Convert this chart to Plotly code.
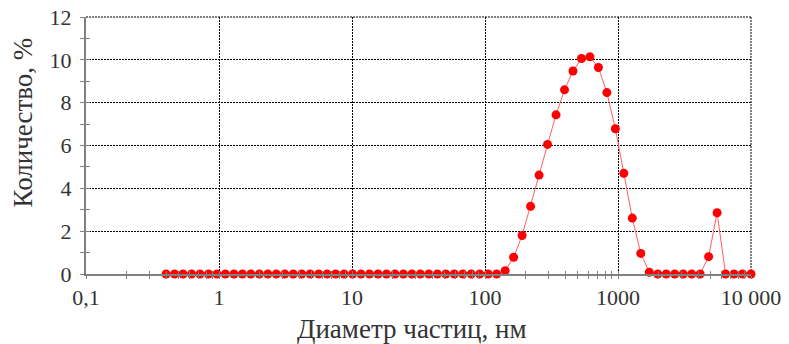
import plotly.graph_objects as go

# Size bins (nm)
diameter_nm = [0.4, 0.4632, 0.5365, 0.6213, 0.7195, 0.8332, 0.9649, 1.117, 1.294, 1.499,
               1.736, 2.010, 2.328, 2.696, 3.122, 3.615, 4.187, 4.849, 5.615, 6.503,
               7.531, 8.721, 10.10, 11.70, 13.54, 15.69, 18.17, 21.04, 24.36, 28.21,
               32.67, 37.84, 43.82, 50.75, 58.77, 68.06, 78.82, 91.28, 105.7, 122.4,
               141.8, 164.2, 190.1, 220.2, 255.0, 295.3, 342.0, 396.1, 458.7, 531.2,
               615.1, 712.4, 825.0, 955.4, 1106, 1281, 1484, 1718, 1990, 2305,
               2669, 3091, 3580, 4145, 4801, 5560, 6439, 7456, 8635, 10000]
# Number distribution (%)
number_pct = [0] * 40 + [0.15, 0.78, 1.8, 3.16, 4.62, 6.05, 7.43, 8.6, 9.48, 10.06,
                         10.14, 9.64, 8.47, 6.78, 4.7, 2.61, 0.96, 0.08, 0, 0,
                         0, 0, 0, 0, 0.81, 2.86, 0, 0, 0, 0]

x_major = [0.1, 1, 10, 100, 1000, 10000]
x_labels = ["0,1", "1", "10", "100", "1000", "10 000"]
y_major = [0, 2, 4, 6, 8, 10, 12]
y_minor = [1, 3, 5, 7, 9, 11]
x_minor = [m * d for d in [0.1, 1, 10, 100, 1000] for m in range(2, 10)]
x_title = "Диаметр частиц, нм"
y_title = "Количество, %"

FONT = "Liberation Serif, Tinos, Times New Roman, serif"
AXC = "#808080"
TXT = "#333333"
XR = [-1, 4]
YR = [0, 12]
GRID = dict(color="#000", width=1, dash="2px,1px")

fig = go.Figure()
fig.add_trace(go.Scatter(
    x=diameter_nm, y=number_pct, mode="lines+markers",
    line=dict(color="#ff6060", width=1),
    marker=dict(color="#ff0000", size=9),
    hoverinfo="x+y", showlegend=False, cliponaxis=False))
# invisible helper trace for the overlay axes (inner half of crossing ticks)
fig.add_trace(go.Scatter(x=[1], y=[0], xaxis="x2", yaxis="y2", mode="markers",
                         marker=dict(opacity=0), hoverinfo="skip", showlegend=False))

fig.update_layout(
    width=789, height=344,
    margin=dict(l=86, r=38, t=17, b=70, autoexpand=False),
    paper_bgcolor="white", plot_bgcolor="white",
    font=dict(family=FONT, size=22, color=TXT),
    xaxis=dict(
        type="log", range=XR, automargin=False,
        tickvals=x_major, ticktext=x_labels,
        tickfont=dict(family=FONT, size=22, color=TXT),
        ticks="outside", ticklen=3, tickcolor=AXC, tickwidth=1,
        showline=True, linecolor=AXC, linewidth=2,
        showgrid=True, gridcolor="#000", griddash="2px,1px", gridwidth=1,
        minor=dict(tickvals=x_minor, ticks="outside", ticklen=3, tickcolor=AXC, showgrid=False),
        zeroline=False,
    ),
    yaxis=dict(
        range=YR, automargin=False,
        tickvals=y_major,
        tickfont=dict(family=FONT, size=22, color=TXT),
        ticks="outside", ticklen=4, tickcolor=AXC, tickwidth=1,
        ticklabelstandoff=4,
        showline=True, linecolor=AXC, linewidth=2,
        showgrid=True, gridcolor="#000", griddash="2px,1px", gridwidth=1,
        minor=dict(tickvals=y_minor, ticks="outside", ticklen=4, tickcolor=AXC, showgrid=False),
        zeroline=False,
    ),
    xaxis2=dict(
        type="log", range=XR, overlaying="x", anchor="y", automargin=False,
        tickvals=x_major + x_minor, ticks="inside", ticklen=3, tickcolor=AXC,
        showticklabels=False, showgrid=False, zeroline=False, showline=False,
    ),
    yaxis2=dict(
        range=YR, overlaying="y", anchor="x", automargin=False,
        tickvals=y_major + y_minor, ticks="inside", ticklen=4, tickcolor=AXC,
        showticklabels=False, showgrid=False, zeroline=False, showline=False,
    ),
    shapes=[
        # grid lines at the plot edges (plotly drops edge gridlines)
        dict(type="line", xref="paper", yref="paper", x0=0, x1=1, y0=1, y1=1, line=GRID, layer="below"),
        dict(type="line", xref="paper", yref="paper", x0=1, x1=1, y0=0, y1=1, line=GRID, layer="below"),
    ],
    annotations=[
        dict(text=x_title, xref="paper", yref="paper", x=0.4895, y=-0.214,
             xanchor="center", yanchor="middle", showarrow=False,
             font=dict(size=27, family=FONT, color=TXT)),
        dict(text=y_title, xref="paper", yref="paper", x=-0.0947, y=0.5895, textangle=-90,
             xanchor="center", yanchor="middle", showarrow=False,
             font=dict(size=27, family=FONT, color=TXT)),
    ],
)

fig.write_html("out.html", config={"displayModeBar": False},
               post_script="document.body.style.margin='0';document.body.style.overflow='hidden';")
